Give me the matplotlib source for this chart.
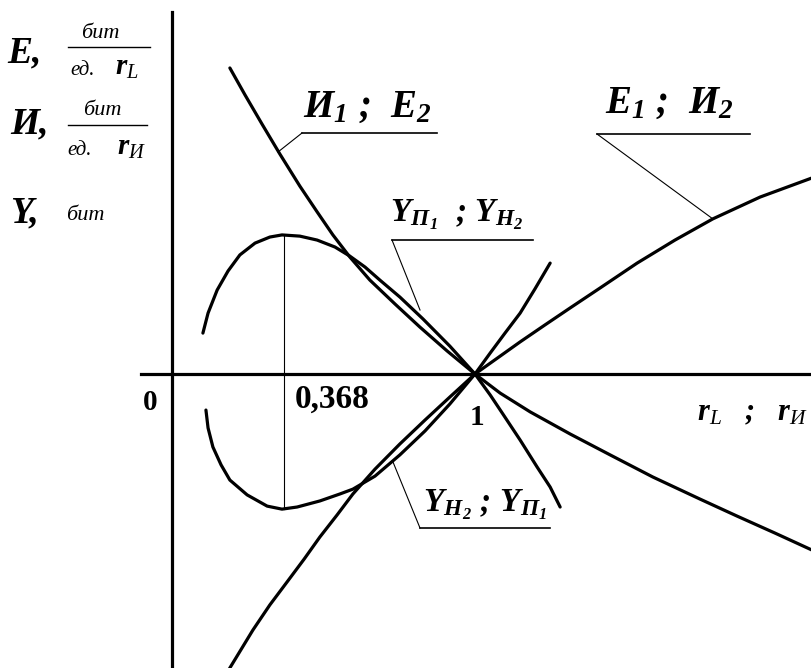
import numpy as np
import matplotlib.pyplot as plt

plt.rcParams['mathtext.fontset'] = 'custom'
plt.rcParams['mathtext.rm'] = 'Liberation Serif:bold:italic'
plt.rcParams['mathtext.it'] = 'Liberation Serif:italic'
plt.rcParams['mathtext.bf'] = 'Liberation Serif:bold:italic'

# curve И1 ; E2 (falling through r = 1)
fall_r = [0.191, 0.241, 0.297, 0.356, 0.422, 0.479, 0.531, 0.587, 0.653, 0.736, 0.818,
          0.908, 1.0, 1.083, 1.182, 1.314, 1.446, 1.587, 1.743, 1.865, 1.990, 2.112]
fall_v = [1.010, 0.921, 0.825, 0.726, 0.620, 0.535, 0.459, 0.386, 0.310, 0.231, 0.155,
          0.076, 0.0, -0.063, -0.125, -0.198, -0.267, -0.340, -0.413, -0.469, -0.525, -0.581]

# curve E1 ; И2 (rising through r = 1)
rise_r = [0.178, 0.191, 0.267, 0.323, 0.380, 0.436, 0.488, 0.545, 0.597, 0.670, 0.752,
          0.835, 0.917, 1.0, 1.083, 1.149, 1.231, 1.314, 1.413, 1.535, 1.660, 1.785,
          1.941, 2.112]
rise_v = [-0.993, -0.970, -0.845, -0.762, -0.686, -0.611, -0.538, -0.465, -0.396, -0.314,
          -0.231, -0.152, -0.076, 0.0, 0.059, 0.106, 0.162, 0.218, 0.284, 0.366, 0.442,
          0.512, 0.584, 0.647]

# Y_П1 : upper half of the loop, continues below the axis after r = 1
yp_r = [0.102, 0.119, 0.149, 0.185, 0.224, 0.274, 0.323, 0.363, 0.422, 0.479, 0.538, 0.587,
        0.637, 0.686, 0.752, 0.828, 0.917, 1.0, 1.050, 1.092, 1.149, 1.205, 1.248, 1.281]
yp_v = [0.135, 0.201, 0.277, 0.340, 0.393, 0.432, 0.452, 0.459, 0.455, 0.442, 0.419, 0.389,
        0.353, 0.310, 0.254, 0.182, 0.092, 0.0, -0.069, -0.132, -0.218, -0.307, -0.373, -0.439]

# Y_Н2 : lower half of the loop, continues above the axis after r = 1
yn_r = [0.112, 0.119, 0.135, 0.162, 0.191, 0.248, 0.314, 0.363, 0.413, 0.488, 0.554,
        0.597, 0.670, 0.752, 0.835, 0.917, 1.0, 1.050, 1.099, 1.149, 1.198, 1.248]
yn_v = [-0.119, -0.178, -0.241, -0.300, -0.350, -0.399, -0.436, -0.446, -0.439, -0.419,
        -0.396, -0.380, -0.337, -0.267, -0.188, -0.099, 0.0, 0.069, 0.135, 0.201, 0.281, 0.366]

r_peak = 0.368


def px(x, y):
    # layout helper: picture pixels -> data units
    return (x - 172) / 303, (374 - y) / 303


fig = plt.figure(figsize=(8.12, 6.68), dpi=100)
ax = fig.add_axes([0, 0, 1, 1])
ax.set_xlim(px(0, 0)[0], px(812, 0)[0])
ax.set_ylim(px(0, 668)[1], px(0, 0)[1])
ax.axis('off')

k = dict(color='black', lw=2.3, solid_capstyle='round', solid_joinstyle='round')
thin = dict(color='black', lw=0.8)

# axes
ax.plot([0, 0], [px(0, 668)[1], px(0, 12)[1]], color='black', lw=2.3)
ax.plot([px(141, 0)[0], px(812, 0)[0]], [0, 0], color='black', lw=2.3)

ax.plot(fall_r, fall_v, **k)
ax.plot(rise_r, rise_v, **k)
ax.plot(yp_r, yp_v, **k)
ax.plot(yn_r, yn_v, **k)

# marker at r = 0.368
ax.plot([r_peak, r_peak], [min(yn_v), max(yp_v)], **thin)

bi = dict(family='Liberation Serif', weight='bold', style='italic', color='black')
it = dict(family='Liberation Serif', style='italic', color='black')
bd = dict(family='Liberation Serif', weight='bold', color='black')


def label(x, y, s, size, x0, x1, yl, tip):
    ax.text(*px(x, y), s, fontsize=size, ha='left', va='baseline', **bi)
    ax.plot(*zip(px(x0, yl), px(x1, yl)), color='black', lw=1.2)
    ax.plot(*zip(px(x0, yl), px(*tip)), **thin)


label(303, 117, r'$\mathbf{И_1}$ ;  $\mathbf{E_2}$', 28, 302, 437, 133, (278, 152))
label(605, 113, r'$\mathbf{E_1}$ ;  $\mathbf{И_2}$', 28, 597, 750, 134, (713, 219))
label(390, 222, r'$\mathbf{Y_{П_1}}$  ; $\mathbf{Y_{Н_2}}$', 24, 392, 533, 240, (420, 310))
label(423, 512, r'$\mathbf{Y_{Н_2}}$ ; $\mathbf{Y_{П_1}}$', 24, 420, 550, 528, (393, 462))

# axis numbers
ax.text(*px(150, 410), '0', fontsize=21, ha='center', va='baseline', **bd)
ax.text(*px(295, 408), '0,368', fontsize=24, ha='left', va='baseline', **bd)
ax.text(*px(477, 425), '1', fontsize=21, ha='center', va='baseline', **bd)
ax.text(*px(697, 420), r'$\mathbf{r}_{L}$   ;   $\mathbf{r}_{И}$', fontsize=22,
        ha='left', va='baseline', **bi)

# y-axis units
ax.text(*px(7, 62), 'E,', fontsize=27, ha='left', va='baseline', **bi)
ax.text(*px(100, 38), 'бит', fontsize=16, ha='center', va='baseline', **it)
ax.plot(*zip(px(68, 47), px(150, 47)), color='black', lw=1.0)
ax.text(*px(70, 75), 'ед.', fontsize=15, ha='left', va='baseline', **it)
ax.text(*px(115, 75), r'$\mathbf{r}_{L}$', fontsize=21, ha='left', va='baseline', **bi)

ax.text(*px(10, 133), 'И,', fontsize=27, ha='left', va='baseline', **bi)
ax.text(*px(102, 115), 'бит', fontsize=16, ha='center', va='baseline', **it)
ax.plot(*zip(px(68, 125), px(147, 125)), color='black', lw=1.0)
ax.text(*px(67, 155), 'ед.', fontsize=15, ha='left', va='baseline', **it)
ax.text(*px(117, 155), r'$\mathbf{r}_{И}$', fontsize=21, ha='left', va='baseline', **bi)

ax.text(*px(10, 222), 'Y,', fontsize=27, ha='left', va='baseline', **bi)
ax.text(*px(66, 220), 'бит', fontsize=16, ha='left', va='baseline', **it)

fig.savefig('out.png', dpi=100)
